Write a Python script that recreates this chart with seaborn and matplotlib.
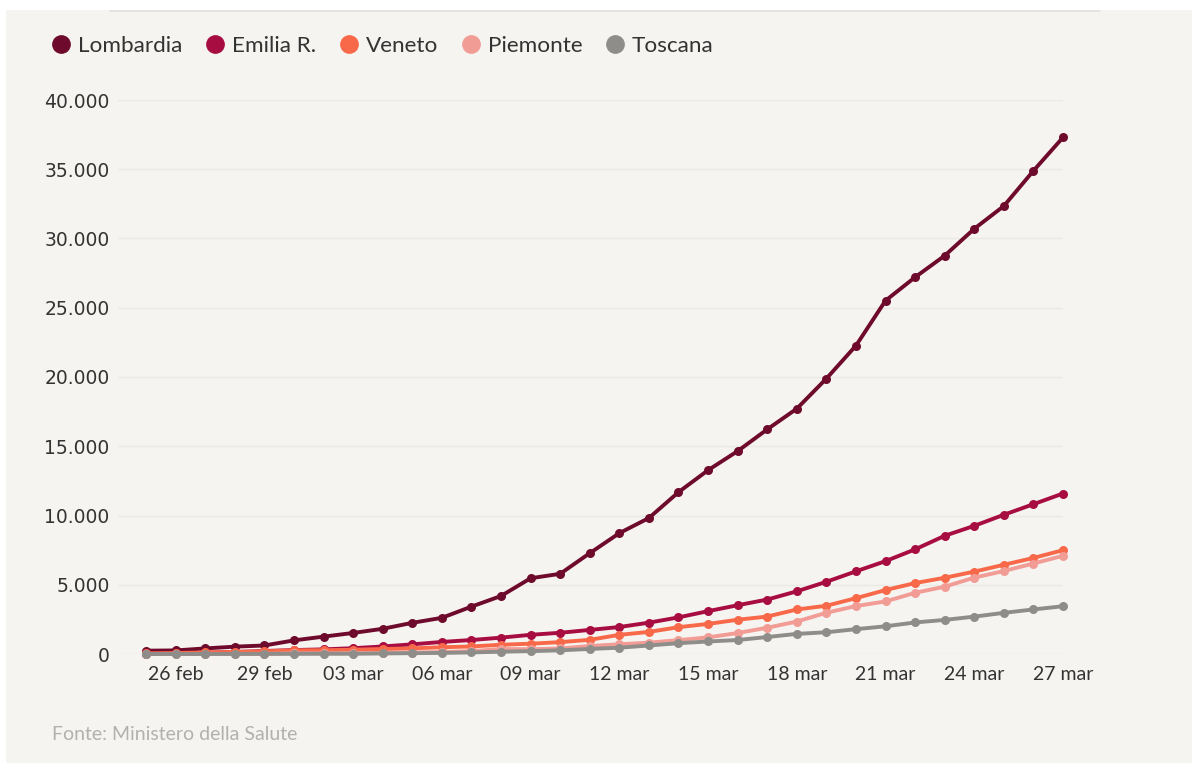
import numpy as np
import pandas as pd
import matplotlib
matplotlib.use("Agg")
import matplotlib.pyplot as plt
from matplotlib.lines import Line2D
from matplotlib.patches import Rectangle
import seaborn as sns

# ---------------- data ----------------
dates = pd.date_range("2020-02-25", "2020-03-27", freq="D")
regions = ["Lombardia", "Emilia R.", "Veneto", "Piemonte", "Toscana"]
lombardia = [240, 258, 403, 531, 615, 984, 1254, 1520, 1820, 2251, 2612, 3420, 4189, 5469, 5791, 7280,
             8725, 9820, 11685, 13272, 14649, 16220, 17713, 19884, 22264, 25515, 27206, 28761, 30703,
             32346, 34889, 37298]
emilia = [26, 47, 97, 145, 217, 285, 335, 420, 544, 698, 870, 1010, 1180, 1386, 1533, 1739, 1947, 2263,
          2644, 3093, 3522, 3931, 4525, 5214, 5968, 6705, 7555, 8535, 9254, 10054, 10816, 11588]
veneto = [43, 71, 111, 151, 191, 263, 273, 307, 360, 407, 488, 543, 670, 744, 856, 1023, 1384, 1595,
          1937, 2172, 2473, 2704, 3214, 3484, 4031, 4617, 5122, 5505, 5948, 6442, 6935, 7497]
piemonte = [3, 3, 3, 11, 11, 49, 51, 56, 82, 108, 143, 207, 360, 350, 401, 580, 700, 820, 1000, 1200,
            1516, 1897, 2341, 2979, 3461, 3795, 4420, 4861, 5515, 5990, 6534, 7092]
toscana = [2, 2, 2, 5, 11, 13, 19, 19, 38, 61, 79, 113, 166, 208, 264, 364, 454, 614, 781, 903, 1011,
           1225, 1453, 1570, 1793, 2001, 2277, 2461, 2699, 2972, 3217, 3450]
tick_dates = ["2020-02-26", "2020-02-29", "2020-03-03", "2020-03-06", "2020-03-09", "2020-03-12",
              "2020-03-15", "2020-03-18", "2020-03-21", "2020-03-24", "2020-03-27"]
tick_labels = ["26 feb", "29 feb", "03 mar", "06 mar", "09 mar", "12 mar", "15 mar", "18 mar",
               "21 mar", "24 mar", "27 mar"]
y_ticks = [0, 5000, 10000, 15000, 20000, 25000, 30000, 35000, 40000]
y_labels = ["0", "5.000", "10.000", "15.000", "20.000", "25.000", "30.000", "35.000", "40.000"]
source = "Fonte: Ministero della Salute"

colors = {"Lombardia": "#6e0b2c", "Emilia R.": "#a80d42", "Veneto": "#f8694a",
          "Piemonte": "#f29c96", "Toscana": "#8f8d8a"}

series = {"Lombardia": lombardia, "Emilia R.": emilia, "Veneto": veneto,
          "Piemonte": piemonte, "Toscana": toscana}
df = pd.concat([pd.DataFrame({"data": dates, "regione": r, "casi": v}) for r, v in series.items()],
               ignore_index=True)

# ---------------- style ----------------
BG = "#f6f4f1"
sns.set_theme(style="white")
plt.rcParams["font.family"] = ["Lato", "DejaVu Sans"]

W, H = 1192, 763
fig = plt.figure(figsize=(W / 100, H / 100), dpi=100)
fig.patch.set_facecolor("white")
fig.add_artist(Rectangle((6 / W, 0), 1, 1 - 10 / H, transform=fig.transFigure,
                         facecolor=BG, edgecolor="none", zorder=-10))
fig.add_artist(Line2D([110 / W, 1100 / W], [1 - 10.5 / H, 1 - 10.5 / H], transform=fig.transFigure,
                      color="#e2e0dd", lw=1.2))

ax = fig.add_axes([118 / W, 1 - 654 / H, (1063 - 118) / W, (654 - 100) / H])
ax.set_facecolor(BG)

sns.lineplot(data=df, x="data", y="casi", hue="regione", hue_order=regions, palette=colors,
             marker="o", markersize=6.5, markeredgewidth=0, linewidth=2.8, ax=ax, legend=False)
for ln in ax.lines:
    ln.set_clip_on(False)

ax.set_xlim(dates[0] - pd.Timedelta(days=0.95), dates[-1])
ax.set_ylim(0, 40000)
ax.set_yticks(y_ticks)
ax.set_yticklabels(y_labels, family="DejaVu Sans", fontsize=13.5, color="#333333")
ax.set_xticks(pd.to_datetime(tick_dates))
ax.set_xticklabels(tick_labels, fontsize=14, color="#333333")
ax.tick_params(axis="both", length=0)
ax.tick_params(axis="y", pad=6)
ax.tick_params(axis="x", pad=9)
ax.set_xlabel("")
ax.set_ylabel("")
for s in ax.spines.values():
    s.set_visible(False)
ax.grid(axis="y", color="#ebe9e5", lw=1)
ax.set_axisbelow(True)

handles = [Line2D([], [], marker="o", linestyle="none", markersize=13.5, markerfacecolor=colors[r],
                  markeredgewidth=0) for r in regions]
fig.legend(handles, regions, loc="center left", bbox_to_anchor=(50 / W, 1 - 46 / H), ncol=5,
           frameon=False, fontsize=16.2, handletextpad=0.25, columnspacing=0.95,
           handlelength=1.0, borderaxespad=0, borderpad=0, labelcolor="#333333")

fig.text(52 / W, 1 - 735 / H, source, fontsize=14, color="#b3b1ae", va="center", ha="left")

fig.savefig("out.png", dpi=100, facecolor=fig.get_facecolor())
